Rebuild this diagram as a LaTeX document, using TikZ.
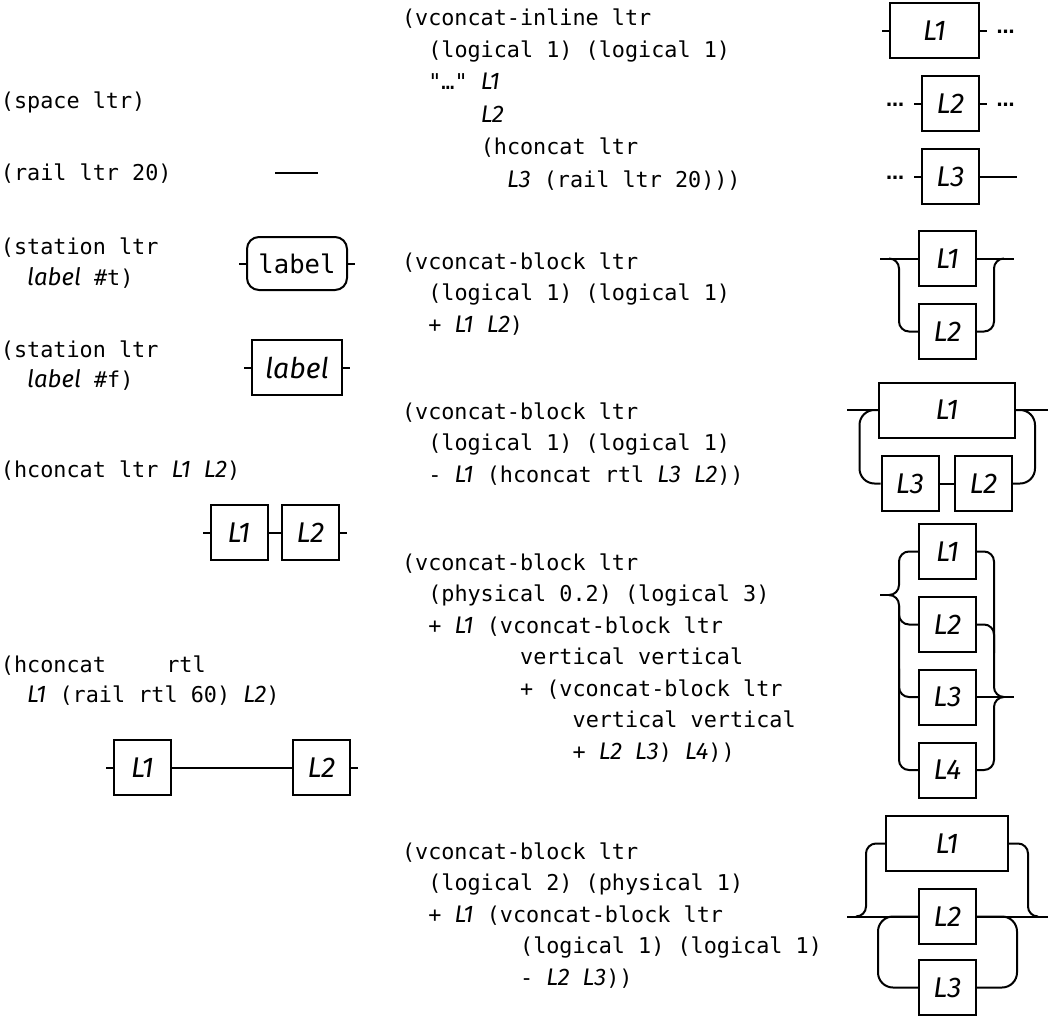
\documentclass[tikz,border=0pt]{standalone}
\usepackage{fontspec}
\setmonofont{DejaVu Sans Mono}
\newfontfamily\labfamily{Fira Sans}
\newfontfamily\dotfamily{DejaVu Sans}
\newcommand\vr[1]{{\labfamily\itshape\fontsize{24}{26}\selectfont #1}}
\begin{document}
\begin{tikzpicture}[x=1pt,y=-1pt,line width=2pt,
    code/.style={font=\ttfamily\fontsize{21.8}{26}\selectfont,anchor=base west,inner sep=0pt},
    lbox/.style={draw,minimum width=57pt,minimum height=55pt,inner sep=0pt,
      font=\labfamily\itshape\fontsize{28.5}{30}\selectfont},
    forkplus/.style={rounded corners=10pt},
    forkminus/.style={rounded corners=15pt},
    more/.style={font=\dotfamily\bfseries\fontsize{18}{20}\selectfont,inner sep=0pt,anchor=base}]
    \useasboundingbox (0,0) rectangle (1057,1017);

    % left column
    \node[code] (sp) at (0,108) {(space ltr)};
    \node[code] (rl) at (0,180) {(rail ltr 20)};
    \coordinate (rlA) at (275,173);
    \coordinate (rlB) at (318,173);
    \draw (rlA) -- (rlB);

    \node[code] (stA) at (0,254) {(station ltr};
    \node[code] (stAb) at (0,285) {~~\vr{label} \#t)};
    \node[draw,rounded corners=12pt,minimum width=100pt,minimum height=53pt,
      font=\ttfamily\fontsize{25.6}{28}\selectfont] (stT) at (297,263.5) {label};
    \draw (stT.west) -- +(-7,0);
    \draw (stT.east) -- +(7,0);

    \node[code] (stB) at (0,357) {(station ltr};
    \node[code] (stBb) at (0,387) {~~\vr{label} \#f)};
    \node[lbox,minimum width=90pt] (stF) at (297,367.5) {label};
    \draw (stF.west) -- +(-7,0);
    \draw (stF.east) -- +(7,0);

    \node[code] (hc) at (0,477) {(hconcat ltr \vr{L1} \vr{L2})};
    \node[lbox] (hL1) at (239,532.5) {L1};
    \node[lbox] (hL2) at (310.5,532.5) {L2};
    \draw (hL1.west) -- +(-7,0);
    \draw (hL1) -- (hL2);
    \draw (hL2.east) -- +(7,0);

    \node[code] (hr) at (0,672) {(hconcat~~~~\hspace{0.36em}rtl};
    \node[code] (hrb) at (0,702) {~~\vr{L1} (rail rtl 60) \vr{L2})};
    \node[lbox] (rL1) at (142.5,767.5) {L1};
    \node[lbox] (rL2) at (321.5,767.5) {L2};
    \draw (rL1.west) -- +(-7,0);
    \draw (rL1) -- (rL2);
    \draw (rL2.east) -- +(7,0);

    % right column, code
    \foreach \t [count=\k from 0] in {{(vconcat-inline ltr},{~~(logical 1) (logical 1)},
        {~~"…" \vr{L1}},{~~~~~~\vr{L2}},{~~~~~~(hconcat ltr},{~~~~~~~~\vr{L3} (rail ltr 20)))}}
      \node[code] (a\k) at (401,25+32.4*\k) {\t};
    \foreach \t [count=\k from 0] in {{(vconcat-block ltr},{~~(logical 1) (logical 1)},
        {~~+ \vr{L1} \vr{L2})}}
      \node[code] (b\k) at (401,269+31.5*\k) {\t};
    \foreach \t [count=\k from 0] in {{(vconcat-block ltr},{~~(logical 1) (logical 1)},
        {~~- \vr{L1} (hconcat rtl \vr{L3} \vr{L2}))}}
      \node[code] (c\k) at (401,419+31.5*\k) {\t};
    \foreach \t [count=\k from 0] in {{(vconcat-block ltr},{~~(physical 0.2) (logical 3)},
        {~~+ \vr{L1} (vconcat-block ltr},{~~~~~~~~~vertical vertical},
        {~~~~~~~~~+ (vconcat-block ltr},{~~~~~~~~~~~~~vertical vertical},
        {~~~~~~~~~~~~~+ \vr{L2} \vr{L3}) \vr{L4}))}}
      \node[code] (d\k) at (401,570+31.5*\k) {\t};
    \foreach \t [count=\k from 0] in {{(vconcat-block ltr},{~~(logical 2) (physical 1)},
        {~~+ \vr{L1} (vconcat-block ltr},{~~~~~~~~~(logical 1) (logical 1)},
        {~~~~~~~~~- \vr{L2} \vr{L3}))}}
      \node[code] (e\k) at (401,859+31.5*\k) {\t};

    % vconcat-inline
    \node[lbox,minimum width=89pt] (aL1) at (934.5,30.5) {L1};
    \node[lbox] (aL2) at (950.5,103.5) {L2};
    \node[lbox] (aL3) at (950.5,176.5) {L3};
    \node[more] (aM1) at (1005.5,33) {…};
    \node[more] (aM2) at (895,106) {…};
    \node[more] (aM3) at (1005.5,106) {…};
    \node[more] (aM4) at (895,179) {…};
    \draw (aL1.west) -- +(-7,0);
    \draw (aL1.east) -- +(7,0);
    \draw (aL2.west) -- +(-7,0);
    \draw (aL2.east) -- +(7,0);
    \draw (aL3.west) -- +(-7,0);
    \coordinate (aEnd) at (1017,176.5);
    \draw (aL3) -- (aEnd);

    % vconcat-block +
    \node[lbox] (bL1) at (947.5,258.5) {L1};
    \node[lbox] (bL2) at (947.5,331.5) {L2};
    \coordinate (bIn) at (880,258.5);
    \coordinate (bOut) at (1014,258.5);
    \coordinate (bJl) at (889,258.5);
    \coordinate (bJr) at (1004,258.5);
    \draw (bIn) -- (bL1) -- (bOut);
    \draw[forkplus] (bJl) -| ([xshift=-19pt]bL2.west) -- (bL2.west);
    \draw[forkplus] (bJr) -| ([xshift=17pt]bL2.east) -- (bL2.east);

    % vconcat-block -
    \node[lbox,minimum width=136pt] (cL1) at (947,410) {L1};
    \node[lbox] (cL3) at (910,483.5) {L3};
    \node[lbox] (cL2) at (983.5,483.5) {L2};
    \coordinate (cIn) at (847,410);
    \coordinate (cOut) at (1048,410);
    \draw (cIn) -- (cL1) -- (cOut);
    \draw (cL3) -- (cL2);
    \draw[forkminus] (cL1.west) -| ([xshift=-21pt]cL3.west) -- (cL3.west);
    \draw[forkminus] (cL1.east) -| ([xshift=22pt]cL2.east) -- (cL2.east);

    % nested, physical 0.2 / logical 3
    \foreach \n/\yy in {1/551.5,2/624.5,3/697,4/770}
      \node[lbox] (dL\n) at (947.5,\yy) {L\n};
    \coordinate (dIn) at (880,595);
    \coordinate (dTl) at (890,595);
    \coordinate (dTr) at (1004,697);
    \coordinate (dOut) at (1014,697);
    \draw (dIn) -- (dTl);
    \draw[forkplus] (dTl) -| ([xshift=-19pt]dL1.west) -- (dL1.west);
    \draw[forkplus] (dTl) -| ([xshift=-19pt]dL4.west) -- (dL4.west);
    \draw[forkplus] ([xshift=-19pt,yshift=-10pt]dL2.north west) |- (dL2.west);
    \draw[forkplus] ([xshift=-19pt]dL3.north west) |- (dL3.west);
    \draw (dL3) -- (dOut);
    \draw[forkplus] (dL1.east) -| ([xshift=-10pt]dTr) -- (dTr);
    \draw[forkplus] (dL4.east) -| ([xshift=-10pt]dTr) -- (dTr);
    \draw[forkplus] (dL2.east) -| ([xshift=17pt]dL2.south east);

    % logical 2 / physical 1
    \node[lbox,minimum width=122pt] (eL1) at (947,843.5) {L1};
    \node[lbox] (eL2) at (947.5,916.5) {L2};
    \node[lbox] (eL3) at (947.5,987.5) {L3};
    \coordinate (eIn) at (847,916.5);
    \coordinate (eOut) at (1048,916.5);
    \coordinate (eJl) at (856,916.5);
    \coordinate (eJr) at (1038,916.5);
    \draw (eIn) -- (eL2) -- (eOut);
    \draw[forkplus] (eJl) -| ([xshift=-19pt]eL1.west) -- (eL1.west);
    \draw[forkplus] (eJr) -| ([xshift=19pt]eL1.east) -- (eL1.east);
    \draw[forkminus] (eL2.west) -| ([xshift=-40pt]eL3.west) -- (eL3.west);
    \draw[forkminus] (eL2.east) -| ([xshift=40pt]eL3.east) -- (eL3.east);
\end{tikzpicture}
\end{document}
